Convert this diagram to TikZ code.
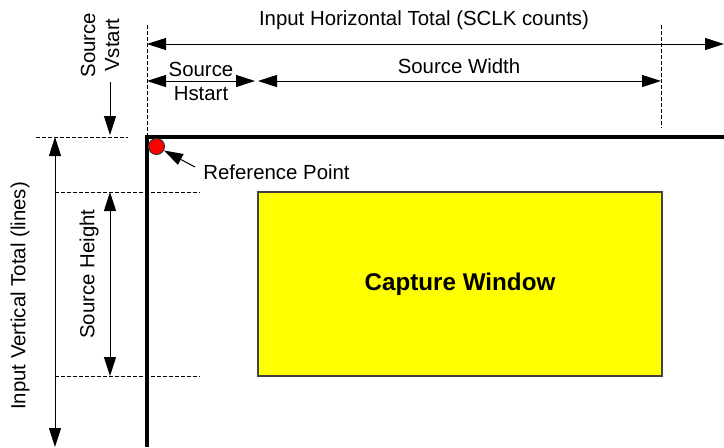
\documentclass[tikz,border=0pt]{standalone}
\usepackage{fontspec}
\setmainfont{Liberation Sans}
\usetikzlibrary{arrows.meta}
\definecolor{windowyellow}{RGB}{255,255,0}
\definecolor{pointred}{RGB}{255,0,0}

\begin{document}
\begin{tikzpicture}[x=0.5pt,y=-0.5pt,>={Triangle[length=9.5pt,width=6pt]},font=\fontsize{10.2}{12}\selectfont]
        % capture window inside the source frame, coordinates in pixels from top left
        \tikzstyle{dim} = [draw,line width=0.5pt,];
        \tikzstyle{guide} = [draw,line width=0.5pt,dash pattern=on 2pt off 1pt,];
        \tikzstyle{border} = [draw,line width=1.75pt,];
        \tikzstyle{txt} = [align=center,inner sep=0pt,];

        \useasboundingbox (0,0) rectangle (724,447);

        \coordinate (origin) at (147,137);
        \coordinate (frame_right) at (724,137);
        \coordinate (frame_bottom) at (147,447);
        \coordinate (hstart_top) at (147,25);
        \coordinate (width_top) at (661,25);
        \coordinate (width_bottom) at (661,128);
        \coordinate (htotal_left) at (147,44);
        \coordinate (htotal_right) at (724,44);
        \coordinate (hstart_left) at (147,81);
        \coordinate (hstart_right) at (255,81);
        \coordinate (width_left) at (258,81);
        \coordinate (width_right) at (661,81);
        \coordinate (vstart_top) at (110,82);
        \coordinate (vstart_tip) at (110,135);
        \coordinate (vtotal_guide) at (36,137);
        \coordinate (vtotal_guide_end) at (128,137);
        \coordinate (vtotal_top) at (55,137);
        \coordinate (vtotal_bottom) at (55,447);
        \coordinate (height_guide_top) at (55,192);
        \coordinate (height_guide_top_end) at (200,192);
        \coordinate (height_guide_bottom) at (55,376);
        \coordinate (height_guide_bottom_end) at (200,376);
        \coordinate (height_top) at (110,192);
        \coordinate (height_bottom) at (110,376);
        \coordinate (ref_tail) at (195,167);

        \node[txt] (htotal_text) at (424,20) {Input Horizontal Total (SCLK counts)};
        \node[txt] (hstart_text) at (201,81) {Source\\Hstart};
        \node[txt] (width_text) at (459,66) {Source Width};
        \node[txt,rotate=90] (vstart_text) at (100,45) {Source\\Vstart};
        \node[txt,rotate=90] (height_text) at (89,274) {Source Height};
        \node[txt,rotate=90] (vtotal_text) at (20,296) {Input Vertical Total (lines)};

        \node[draw=black!75,line width=0.75pt,fill=windowyellow,minimum width=202pt,minimum height=92pt,inner sep=0pt,font=\fontsize{12.1}{14}\selectfont\bfseries] (capture) at (460,284) {Capture Window};

        \draw[guide] (hstart_top) -- (origin);
        \draw[guide] (width_top) -- (width_bottom);
        \draw[guide] (vtotal_guide) -- (vtotal_guide_end);
        \draw[guide] (height_guide_top) -- (height_guide_top_end);
        \draw[guide] (height_guide_bottom) -- (height_guide_bottom_end);

        \draw[dim,<->] (htotal_left) -- (htotal_right);
        \draw[dim,<->] (hstart_left) -- (hstart_right);
        \draw[dim,<->] (width_left) -- (width_right);
        \draw[dim,->] (vstart_top) -- (vstart_tip);
        \draw[dim,<->] (vtotal_top) -- (vtotal_bottom);
        \draw[dim,<->] (height_top) -- (height_bottom);

        \draw[border] (frame_right) -- (origin) -- (frame_bottom);

        \node[circle,draw=black!80,line width=0.5pt,fill=pointred,minimum size=8pt,inner sep=0pt] (ref) at (156.5,146.5) {};
        \node[txt,anchor=west] (ref_text) at (203,172) {Reference Point};
        \draw[dim,->] (ref_tail) -- (ref);

    \end{tikzpicture}
\end{document}
